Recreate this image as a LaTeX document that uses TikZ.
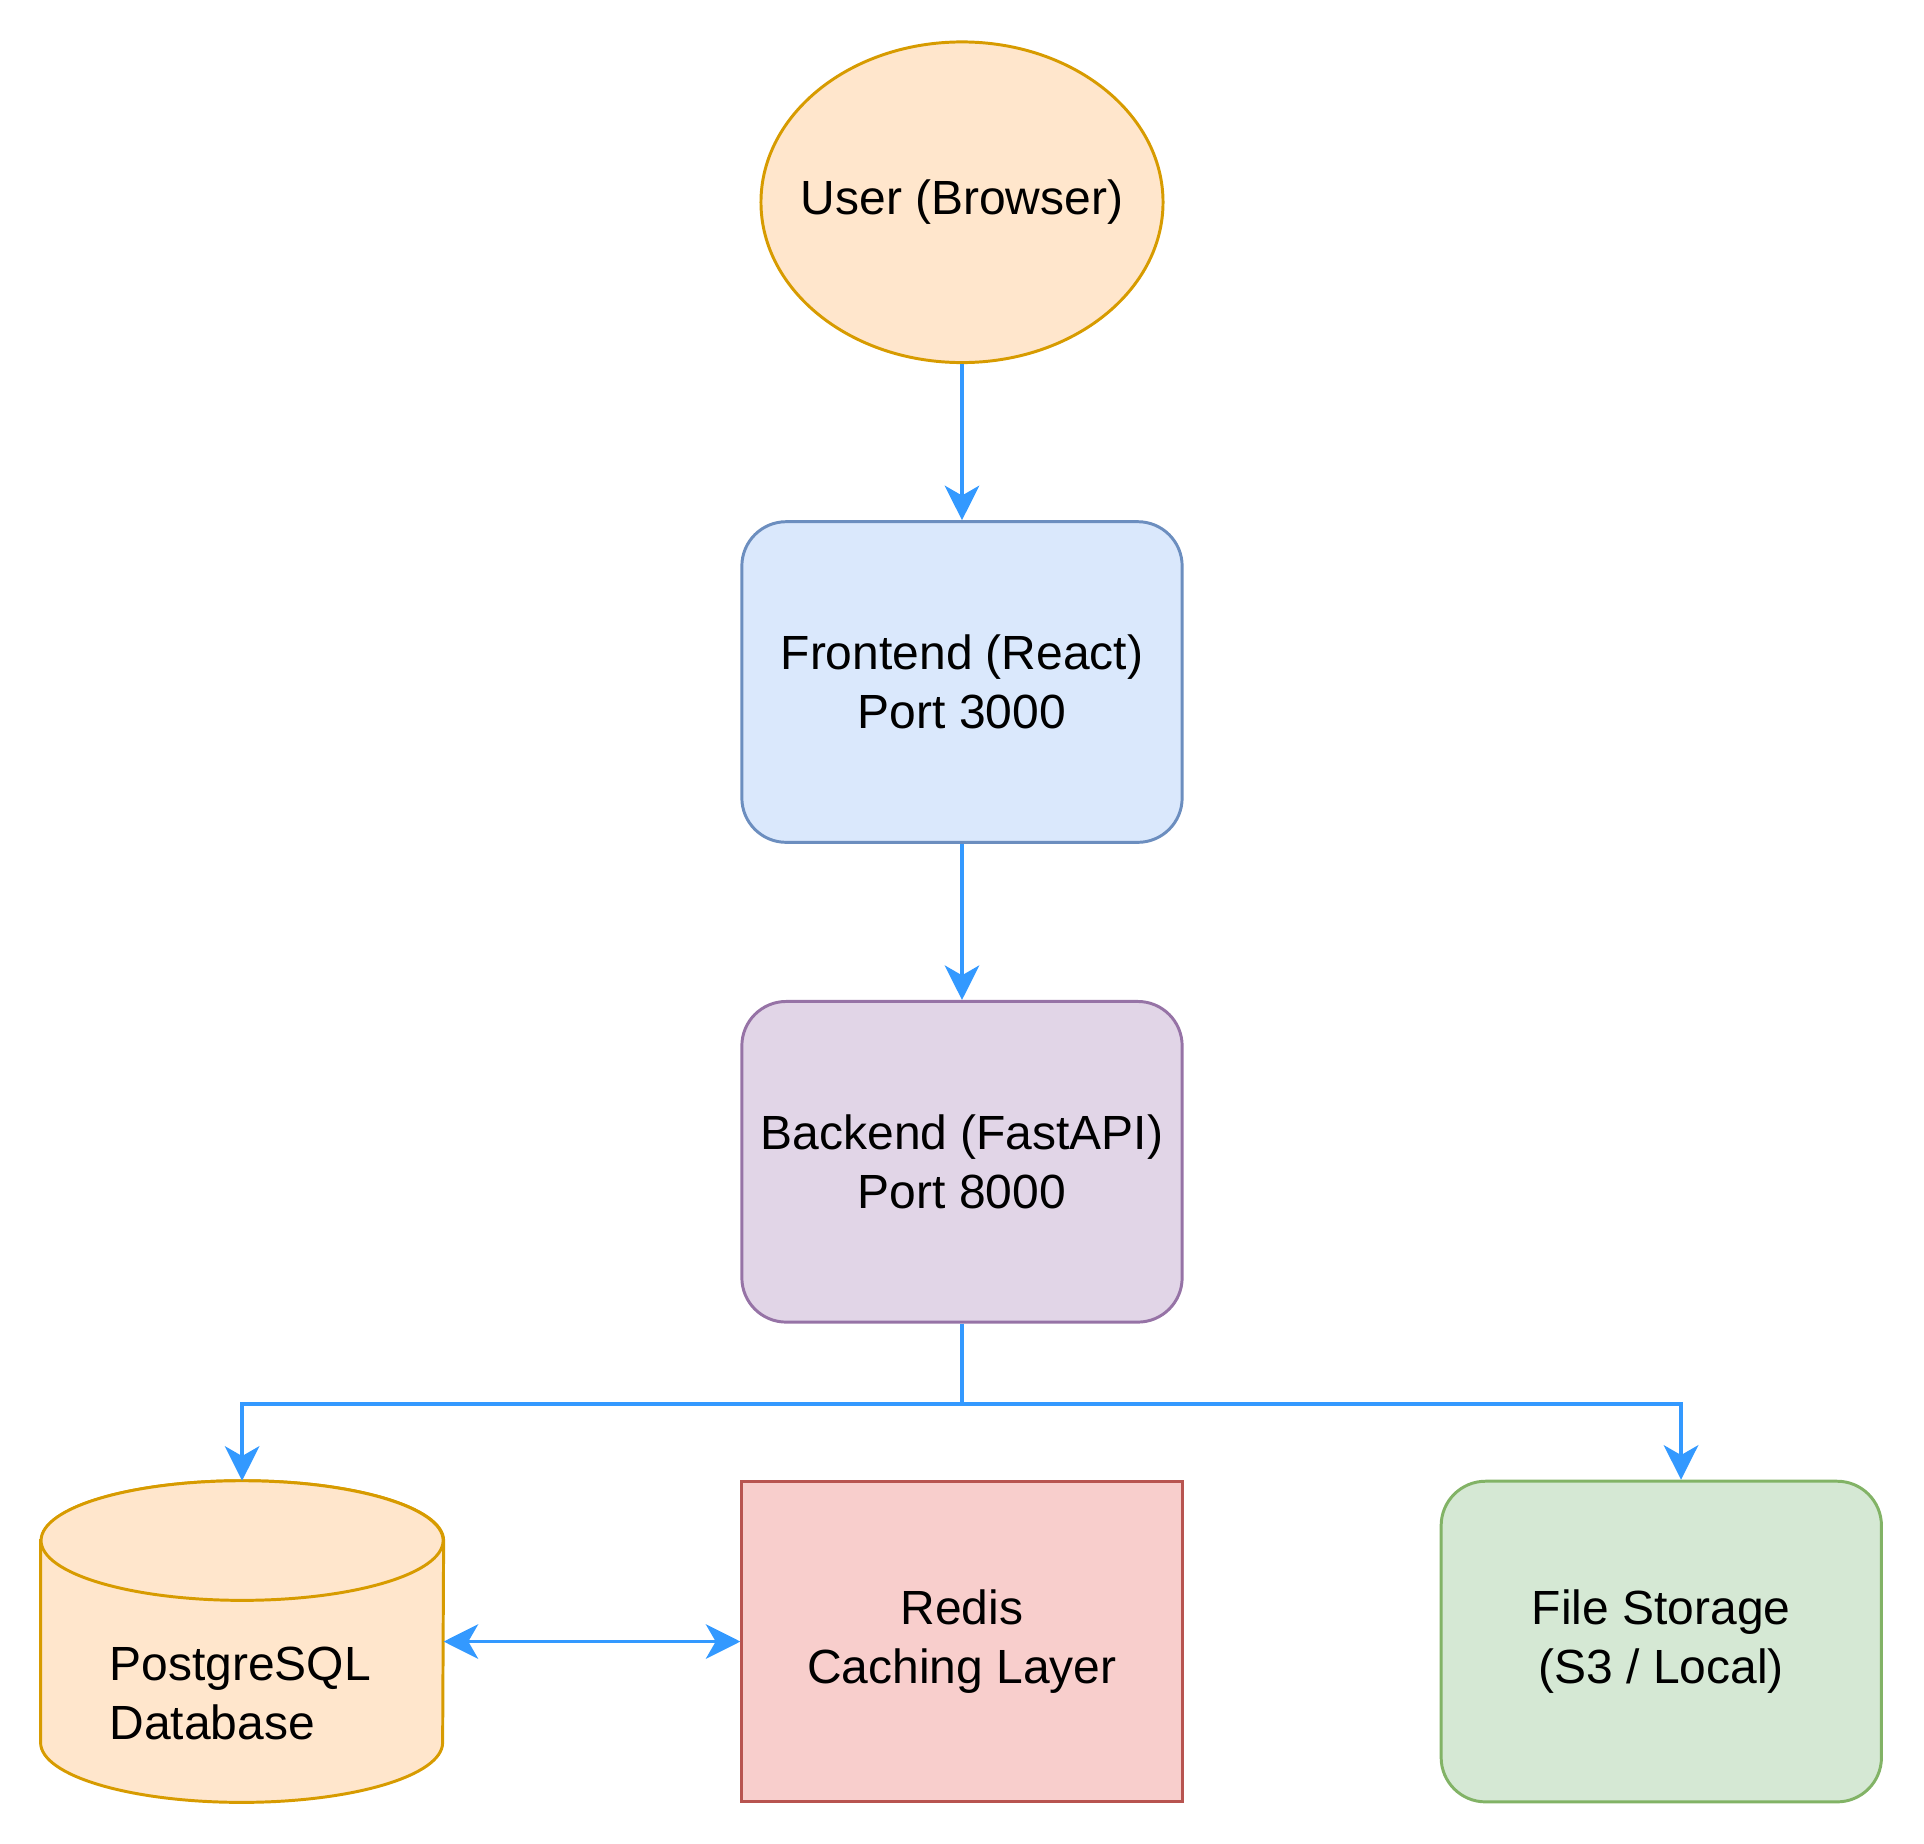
\documentclass[tikz,border=0pt]{standalone}
\usepackage{fontspec}
\setmainfont{Liberation Sans}
\usetikzlibrary{positioning, arrows.meta, shapes.geometric}
\definecolor{userfill}{HTML}{FFE6CC}
\definecolor{userline}{HTML}{D79B00}
\definecolor{frontfill}{HTML}{DAE8FC}
\definecolor{frontline}{HTML}{6C8EBF}
\definecolor{backfill}{HTML}{E1D5E7}
\definecolor{backline}{HTML}{9673A6}
\definecolor{redisfill}{HTML}{F8CECC}
\definecolor{redisline}{HTML}{B85450}
\definecolor{filefill}{HTML}{D5E8D4}
\definecolor{fileline}{HTML}{82B366}
\definecolor{flowblue}{HTML}{3399FF}
\tikzset{
x=0.5pt, y=0.5pt, % one unit is one pixel of the drawing
>={Stealth[length=14pt, width=14pt, inset=4pt]}, % drawio-like arrow heads
node distance=63.3pt, % gap between the stacked boxes
every node/.style={font=\fontsize{19.45}{24}\selectfont, align=center, inner sep=2pt},
box/.style={draw, line width=1.2pt, minimum width=178.5pt, minimum height=130pt},
userbox/.style={ellipse, draw=userline, fill=userfill, line width=1.2pt, inner xsep=-12pt, minimum width=163pt, minimum height=130pt},
frontbox/.style={box, rounded corners=18pt, draw=frontline, fill=frontfill},
backbox/.style={box, rounded corners=18pt, draw=backline, fill=backfill},
redisbox/.style={box, draw=redisline, fill=redisfill},
filebox/.style={box, rounded corners=18pt, draw=fileline, fill=filefill},
dbbox/.style={minimum width=163pt, minimum height=130pt}, % place holder for the cylinder
dbline/.style={draw=userline, fill=userfill, line width=1.2pt},
dblabel/.style={align=left},
flow/.style={->, draw=flowblue, line width=1.4pt},
}
\begin{document}
\begin{tikzpicture}
    \useasboundingbox (0,0) rectangle (1560,1495);

    \node[userbox] (user) at (780,1331) {User (Browser)};
    \node[frontbox, below=of user] (front) {Frontend (React)\\Port 3000};
    \node[backbox, below=of front] (back) {Backend (FastAPI)\\Port 8000};
    \node[redisbox, below=of back] (redis) {Redis\\Caching Layer};
    \node[dbbox, left=120.3pt of redis] (pg) {};
    \node[filebox, right=103.8pt of redis] (files) {File Storage\\(S3 / Local)};

    % cylinder round the database node
    \filldraw[dbline] ([yshift=-24.25pt]pg.north west) -- ([yshift=24.25pt]pg.south west)
        arc[start angle=180, end angle=360, x radius=81.5pt, y radius=24.25pt]
        -- ([yshift=-24.25pt]pg.north east)
        arc[start angle=0, end angle=180, x radius=81.5pt, y radius=24.25pt] -- cycle;
    \draw[dbline] ([yshift=-24.25pt]pg.north) ellipse[x radius=81.5pt, y radius=24.25pt];
    \node[dblabel] (pglabel) at ([xshift=-0.75pt, yshift=-21pt]pg.center) {PostgreSQL\\Database};

    \coordinate (split) at ([yshift=-32.5pt]back.south);
    \coordinate (filetop) at ([xshift=8pt]files.north);

    \draw[flow] (user) -- (front);
    \draw[flow] (front) -- (back);
    \draw[flow] (back.south) -- (split) -| (pg.north);
    \draw[flow] (split) -| (filetop);
    \draw[flow, <->] (pg.east) -- (redis.west);
\end{tikzpicture}
\end{document}
